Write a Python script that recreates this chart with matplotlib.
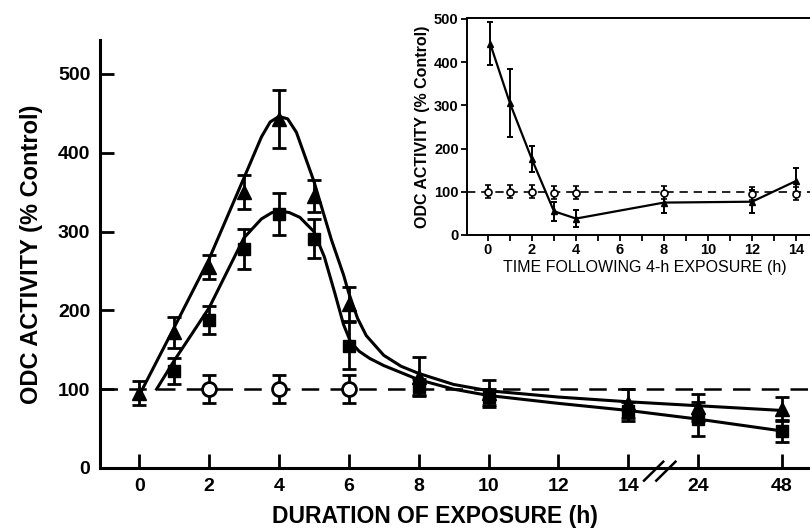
"""
ODC activity vs. duration of exposure, with inset of recovery after 4-h exposure
"""

import matplotlib.pyplot as plt
import numpy as np

# ---------------------------------------------------------------------------
# Data
# ---------------------------------------------------------------------------
tick_hours = [0, 2, 4, 6, 8, 10, 12, 14, 24, 48]
tick_pos = [0, 2, 4, 6, 8, 10, 12, 14, 16, 18.4]   # broken axis after 14 h

tri_hours = [0, 1, 2, 3, 4, 5, 6, 8, 10, 14, 24, 48]
tri_vals = [95, 172, 255, 350, 443, 345, 208, 116, 95, 82, 77, 75]
tri_err = [15, 20, 15, 22, 37, 20, 22, 25, 17, 18, 17, 15]

sq_hours = [1, 2, 3, 4, 5, 6, 8, 10, 14, 24, 48]
sq_vals = [123, 188, 278, 322, 291, 155, 103, 90, 72, 62, 47]
sq_err = [17, 18, 25, 27, 25, 30, 10, 10, 12, 22, 14]

ctl_hours = [2, 4, 6]
ctl_vals = [100, 100, 100]
ctl_err = [18, 18, 18]

# fitted curves as drawn in the figure
upper_hours = [0, 1, 2, 3, 3.5, 3.75, 4, 4.25, 4.5, 5, 5.5, 5.85, 6, 6.25, 6.5, 7, 7.5,
               8, 9, 10, 12, 14, 24, 48]
upper_vals = [92, 178, 265, 368, 420, 439, 446, 443, 426, 364, 290, 245, 222, 190, 168,
              143, 129, 120, 106, 98, 90, 84, 79, 73]
lower_hours = [0.5, 1, 2, 3, 3.5, 3.8, 4.04, 4.3, 4.6, 5, 5.3, 5.6, 5.85, 6.05, 6.3, 6.6,
               7, 8, 9, 10, 12, 14, 24, 48]
lower_vals = [100, 136, 203, 292, 316, 324, 326, 324, 318, 300, 268, 222, 182, 160, 148,
              139, 130, 112, 100, 92, 82, 73, 62, 47]

# inset: time following 4-h exposure
ins_hours = [0.1, 1, 2, 3, 4, 8, 12, 14]
ins_vals = [443, 305, 175, 55, 38, 75, 77, 125]
ins_err = [50, 78, 30, 22, 20, 25, 27, 30]
ins_ctl_hours = [0, 1, 2, 3, 4, 8, 12, 14]
ins_ctl_vals = [100, 100, 100, 98, 98, 98, 96, 96]
ins_ctl_err = [15, 15, 15, 15, 15, 15, 15, 15]


def pos(h):
    return np.interp(h, tick_hours, tick_pos)


plt.rcParams['font.family'] = ['Liberation Sans', 'DejaVu Sans']

W, H = 810, 531
fig = plt.figure(figsize=(W / 100, H / 100), dpi=100)

# ========================================================================
# Main axes
# ========================================================================
ax = fig.add_axes([100 / W, (H - 468) / H, 710 / W, 428 / H])
ax.set_xlim(-1.12, 19.2)
ax.set_ylim(0, 543)

lw = 2.2
ax.axhline(100, color='black', lw=1.8, dashes=(7, 4.5), zorder=1)
ax.plot(pos(upper_hours), upper_vals, color='black', lw=lw, zorder=2)
ax.plot(pos(lower_hours), lower_vals, color='black', lw=lw, zorder=2)

eb = dict(color='black', elinewidth=2.0, capsize=5, capthick=2.0, ls='none', zorder=3)
ax.errorbar(pos(tri_hours), tri_vals, yerr=tri_err, marker='^', ms=10,
            mfc='black', mec='black', **eb)
ax.errorbar(pos(sq_hours), sq_vals, yerr=sq_err, marker='s', ms=8,
            mfc='black', mec='black', **eb)
ax.errorbar(pos(ctl_hours), ctl_vals, yerr=ctl_err, marker='o', ms=10,
            mfc='white', mec='black', mew=2.0, **eb)

# axis break marks between 14 and 24
for x0 in (14.45, 14.8):
    ax.plot([x0, x0 + 0.55], [-16, 8], color='black', lw=1.8, clip_on=False)

for s in ('top', 'right'):
    ax.spines[s].set_visible(False)
for s in ('left', 'bottom'):
    ax.spines[s].set_linewidth(2.2)

ax.set_xticks(tick_pos)
ax.set_xticklabels([str(h) for h in tick_hours])
ax.set_yticks([0, 100, 200, 300, 400, 500])
ax.tick_params(direction='in', length=10, width=2.0, labelsize=14, pad=7)
for lab in ax.get_xticklabels() + ax.get_yticklabels():
    lab.set_fontweight('bold')

ax.set_xlabel('DURATION OF EXPOSURE (h)', fontsize=16.5, fontweight='bold')
ax.xaxis.set_label_coords(0.472, -0.086)
ax.set_ylabel('ODC ACTIVITY (% Control)', fontsize=17, fontweight='bold')
ax.yaxis.set_label_coords(-0.08, 0.50)

# ========================================================================
# Inset
# ========================================================================
ins = fig.add_axes([467 / W, (H - 235) / H, 355 / W, 217 / H])
ins.set_xlim(-0.95, 15.18)
ins.set_ylim(0, 502)
ins.patch.set_alpha(0)

ins.axhline(100, color='black', lw=1.2, dashes=(5, 3.5), zorder=1)
ins.plot(ins_hours, ins_vals, color='black', lw=1.6, zorder=2)
ieb = dict(color='black', elinewidth=1.4, capsize=2.5, capthick=1.4, ls='none', zorder=3)
ins.errorbar(ins_hours, ins_vals, yerr=ins_err, marker='^', ms=4,
             mfc='black', mec='black', **ieb)
ins.errorbar(ins_ctl_hours, ins_ctl_vals, yerr=ins_ctl_err, marker='o', ms=5,
             mfc='white', mec='black', mew=1.2, **ieb)

for s in ins.spines.values():
    s.set_linewidth(1.4)
ins.set_xticks([0, 2, 4, 6, 8, 10, 12, 14])
ins.set_xticks(range(1, 15, 2), minor=True)
ins.set_yticks([0, 100, 200, 300, 400, 500])
ins.tick_params(which='both', direction='out', length=4, width=1.3,
                labelsize=10.5, pad=2, top=False, right=False)
for lab in ins.get_xticklabels() + ins.get_yticklabels():
    lab.set_fontweight('bold')
ins.set_xlabel('TIME FOLLOWING 4-h EXPOSURE (h)', fontsize=11.5, labelpad=2)
ins.set_ylabel('ODC ACTIVITY (% Control)', fontsize=11.5, fontweight='bold',
               labelpad=3)

fig.savefig('out.png', dpi=100)
